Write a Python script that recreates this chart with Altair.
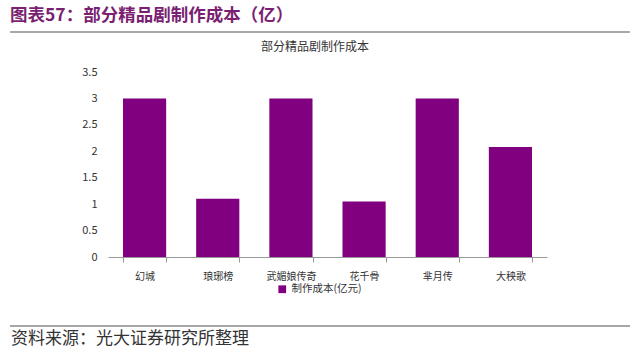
import altair as alt
import pandas as pd

categories = ["幻城", "琅琊榜", "武媚娘传奇", "花千骨", "芈月传", "大秧歌"]
costs = [3.0, 1.1, 3.0, 1.05, 3.0, 2.08]
series_name = "制作成本(亿元)"
y_ticks = [0, 0.5, 1, 1.5, 2, 2.5, 3, 3.5]
header_text = "图表57：部分精品剧制作成本（亿）"
chart_title = "部分精品剧制作成本"
footer_text = "资料来源：光大证券研究所整理"

FONT = "Noto Sans CJK SC"
PURPLE = "#800080"

df = pd.DataFrame({"剧名": categories, "成本": costs, "系列": [series_name] * len(categories)})

bars = alt.Chart(df).mark_bar(color=PURPLE).encode(
    x=alt.X("剧名:N", sort=categories,
            scale=alt.Scale(paddingInner=0.41, paddingOuter=0.205),
            axis=alt.Axis(title=None, labelAngle=0, labelFont=FONT, labelFontSize=10,
                          labelColor="#333333", labelPadding=9, tickBand="extent",
                          domainColor="#999999", tickColor="#999999", tickSize=5,
                          domainWidth=1.2)),
    y=alt.Y("成本:Q", scale=alt.Scale(domain=[0, 3.5], nice=False),
            axis=alt.Axis(title=None, values=y_ticks, format="~g", domain=False,
                          ticks=False, grid=False, labelFont=FONT, labelFontSize=11,
                          labelColor="#333333", labelPadding=11)),
    color=alt.Color("系列:N", scale=alt.Scale(range=[PURPLE]),
                    legend=alt.Legend(title=None, orient="none", legendX=169, legendY=212,
                                      symbolType="square", symbolSize=60,
                                      labelFont=FONT, labelFontSize=10.5, labelColor="#333333",
                                      symbolStrokeWidth=0)),
)

one = pd.DataFrame({"h": [header_text], "t": [chart_title], "f": [footer_text]})

header = alt.Chart(one).mark_text(align="left", baseline="middle", font=FONT,
                                  fontSize=17.5, fontWeight="bold", color="#7a1f72").encode(
    x=alt.value(-98), y=alt.value(-56), text="h:N")

title = alt.Chart(one).mark_text(align="center", baseline="middle", font=FONT,
                                 fontSize=12, color="#333333").encode(
    x=alt.value(207), y=alt.value(-25), text="t:N")

footer = alt.Chart(one).mark_text(align="left", baseline="middle", font=FONT,
                                  fontSize=17, color="#333333").encode(
    x=alt.value(-97), y=alt.value(267), text="f:N")

line_top = alt.Chart(one).mark_rule(color="#8a8a8a", strokeWidth=1.5).encode(
    x=alt.value(-98), x2=alt.value(522), y=alt.value(-40))

line_bottom = alt.Chart(one).mark_rule(color="#8a8a8a", strokeWidth=1.5).encode(
    x=alt.value(-98), x2=alt.value(522), y=alt.value(254))

chart = alt.layer(bars, header, title, footer, line_top, line_bottom).properties(
    width=439, height=185,
    autosize=alt.AutoSizeParams(type="none"),
    padding={"left": 108, "top": 72, "right": 93, "bottom": 95},
    background="white",
).configure_view(stroke=None)

chart.save("out.html", embed_options={"renderer": "svg", "actions": False})
